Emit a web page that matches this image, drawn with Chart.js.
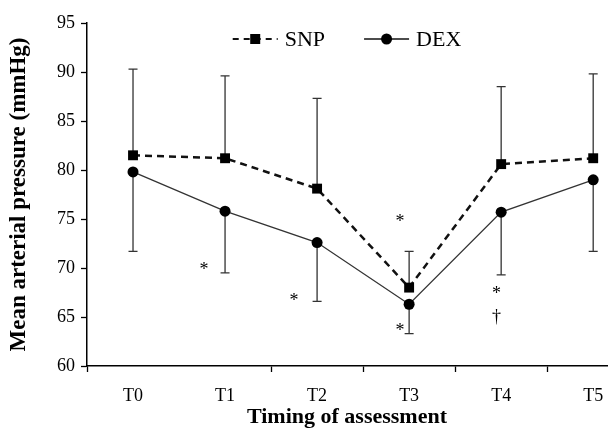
<!DOCTYPE html>
<html>
<head>
<meta charset="utf-8">
<script src="https://cdn.jsdelivr.net/npm/chart.js@4.4.1/dist/chart.umd.min.js"></script>
<style>
    html, body { margin: 0; padding: 0; background: #fff; }
    #wrap { width: 614px; height: 435px; position: relative; }
</style>
</head>
<body>
<div id="wrap"><canvas id="mapChart"></canvas></div>
<script>
// values
const timePoints = ['T0', 'T1', 'T2', 'T3', 'T4', 'T5'];
const snpMean = [81.5, 81.2, 78.1, 68.0, 80.6, 81.2];
const snpSd = [8.8, 8.4, 9.2, 3.7, 7.9, 8.6];
const dexMean = [79.8, 75.8, 72.6, 66.3, 75.7, 79.0];
const dexSd = [8.1, 6.3, 6.0, 3.0, 6.4, 7.3];
const yTicks = [60, 65, 70, 75, 80, 85, 90, 95];

// significance marks (x in category units, y in mmHg)
const markX = [0.77, 1.75, 2.9, 2.9, 3.95, 3.95];
const markY = [70.1, 66.95, 75.05, 63.9, 67.75, 65.0];
const markText = ['*', '*', '*', '*', '*', '†'];

const serif = "'Liberation Serif', 'Times New Roman', serif";
Chart.defaults.font.family = serif;
Chart.defaults.color = '#000';

const toPoints = arr => arr.map((v, i) => ({ x: i, y: v }));

// SD bars: SNP goes up, DEX goes down
const errorBars = {
    id: 'errorBars',
    beforeDatasetsDraw(chart) {
        const { ctx, scales: { x, y } } = chart;
        ctx.save();
        ctx.strokeStyle = '#333';
        ctx.lineWidth = 1.3;
        const bar = (i, from, to) => {
            const px = x.getPixelForValue(i);
            const y0 = y.getPixelForValue(from);
            const y1 = y.getPixelForValue(to);
            ctx.beginPath();
            ctx.moveTo(px, y0);
            ctx.lineTo(px, y1);
            ctx.moveTo(px - 4.5, y1);
            ctx.lineTo(px + 4.5, y1);
            ctx.stroke();
        };
        snpMean.forEach((m, i) => bar(i, m, m + snpSd[i]));
        dexMean.forEach((m, i) => bar(i, m, m - dexSd[i]));
        ctx.restore();
    }
};

const sigMarks = {
    id: 'sigMarks',
    afterDatasetsDraw(chart) {
        const { ctx, scales: { x, y } } = chart;
        const fs = 18;
        ctx.save();
        ctx.font = fs + 'px ' + serif;
        ctx.fillStyle = '#000';
        ctx.textAlign = 'center';
        ctx.textBaseline = 'alphabetic';
        markText.forEach((t, i) => {
            // shift so the glyph centre sits on the value
            const lift = t === '*' ? 0.47 : 0.26;
            ctx.fillText(t, x.getPixelForValue(markX[i]), y.getPixelForValue(markY[i]) + lift * fs);
        });
        ctx.restore();
    }
};

// legend inside the plot: line + marker, then label
const lineLegend = {
    id: 'lineLegend',
    afterDraw(chart) {
        const { ctx, chartArea } = chart;
        ctx.save();
        ctx.font = '22px ' + serif;
        const items = [
            { text: 'SNP', dash: [6, 5], width: 2.2, shape: 'rect' },
            { text: 'DEX', dash: [], width: 1.3, shape: 'circle' }
        ];
        const lineLen = 45, gapText = 7, gapItem = 39;
        let total = 0;
        items.forEach((it, k) => {
            it.tw = ctx.measureText(it.text).width;
            total += lineLen + gapText + it.tw + (k ? 0 : gapItem);
        });
        let cx = (chartArea.left + chartArea.right) / 2 - total / 2;
        const cy = chartArea.top + 16;
        items.forEach(it => {
            ctx.strokeStyle = '#111';
            ctx.lineWidth = it.width;
            ctx.setLineDash(it.dash);
            ctx.beginPath();
            ctx.moveTo(cx, cy);
            ctx.lineTo(cx + lineLen, cy);
            ctx.stroke();
            ctx.setLineDash([]);
            ctx.fillStyle = '#000';
            const mx = cx + lineLen / 2;
            if (it.shape === 'rect') {
                ctx.fillRect(mx - 5, cy - 5, 10, 10);
            } else {
                ctx.beginPath();
                ctx.arc(mx, cy, 5.5, 0, Math.PI * 2);
                ctx.fill();
            }
            ctx.textAlign = 'left';
            ctx.textBaseline = 'middle';
            ctx.fillText(it.text, cx + lineLen + gapText, cy + 1);
            cx += lineLen + gapText + it.tw + gapItem;
        });
        ctx.restore();
    }
};

const ctx = document.getElementById('mapChart').getContext('2d');
new Chart(ctx, {
    type: 'line',
    data: {
        datasets: [{
            label: 'DEX',
            data: toPoints(dexMean),
            borderColor: '#333',
            borderWidth: 1.3,
            pointStyle: 'circle',
            pointRadius: 5.5,
            pointBackgroundColor: '#000',
            pointBorderColor: '#000',
            pointBorderWidth: 0,
            tension: 0
        }, {
            label: 'SNP',
            data: toPoints(snpMean),
            borderColor: '#111',
            borderWidth: 2.5,
            borderDash: [7, 5],
            pointStyle: 'rect',
            pointRadius: 7,
            pointBackgroundColor: '#000',
            pointBorderColor: '#000',
            pointBorderWidth: 0,
            tension: 0
        }]
    },
    options: {
        responsive: true,
        maintainAspectRatio: false,
        animation: false,
        layout: { padding: { top: 23, right: 0, left: 0, bottom: 0 } },
        plugins: {
            legend: { display: false },
            tooltip: { enabled: false }
        },
        scales: {
            x: {
                type: 'linear',
                min: -0.5,
                max: 5.15,
                afterBuildTicks: s => {
                    s.ticks = [];
                    timePoints.forEach((t, i) => {
                        s.ticks.push({ value: i - 0.5 });
                        s.ticks.push({ value: i });
                    });
                },
                // axis runs off the right edge, as in the figure
                afterFit: s => {
                    s.height = 69;
                    s.paddingLeft = 0;
                    s.paddingRight = 0;
                },
                ticks: {
                    autoSkip: false,
                    maxRotation: 0,
                    padding: 13,
                    font: { size: 18 },
                    color: '#000',
                    callback: v => Number.isInteger(v) ? timePoints[v] : ''
                },
                grid: {
                    drawOnChartArea: false,
                    tickLength: 6,
                    tickWidth: 1.3,
                    tickColor: c => (Number.isInteger(c.tick.value) || c.tick.value === 0.5) ? 'rgba(0,0,0,0)' : '#000'
                },
                border: { color: '#000', width: 1.5 },
                title: {
                    display: true,
                    text: 'Timing of assessment',
                    font: { size: 22, weight: 'bold' },
                    color: '#000',
                    padding: { top: 0, bottom: 4 }
                }
            },
            y: {
                min: 60,
                max: 95,
                afterBuildTicks: s => { s.ticks = yTicks.map(v => ({ value: v })); },
                afterFit: s => { s.width = 87; },
                ticks: {
                    padding: 6,
                    font: { size: 18 },
                    color: '#000'
                },
                grid: {
                    drawOnChartArea: false,
                    tickLength: 6,
                    tickWidth: 1.3,
                    tickColor: '#000'
                },
                border: { color: '#000', width: 1.5 },
                title: {
                    display: true,
                    text: 'Mean arterial pressure (mmHg)',
                    font: { size: 23, weight: 'bold' },
                    color: '#000',
                    padding: { top: 5, bottom: 0 }
                }
            }
        }
    },
    plugins: [errorBars, sigMarks, lineLegend]
});
</script>
</body>
</html>
